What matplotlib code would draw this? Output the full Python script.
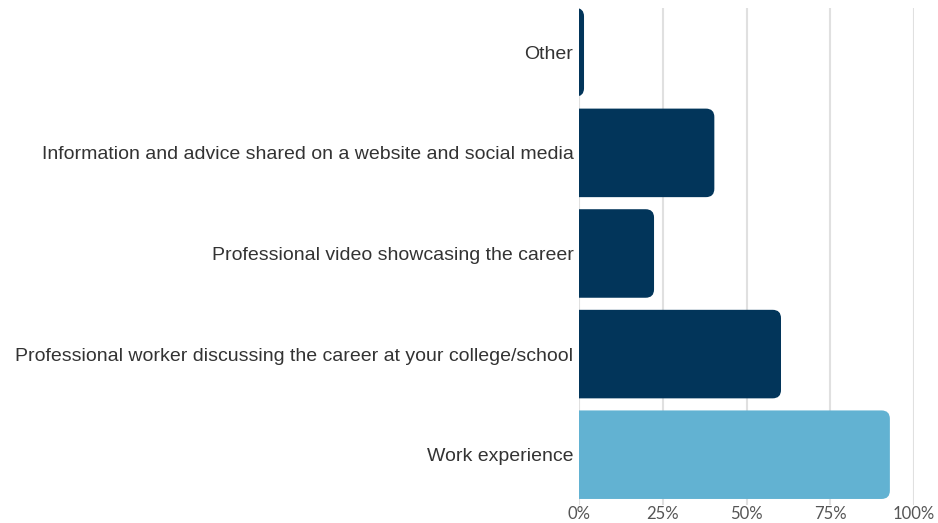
import matplotlib
matplotlib.use("Agg")
import matplotlib.pyplot as plt
from matplotlib.patches import FancyBboxPatch

categories = [
    "Other",
    "Information and advice shared on a website and social media",
    "Professional video showcasing the career",
    "Professional worker discussing the career at your college/school",
    "Work experience",
]
values = [1.5, 40.4, 22.4, 60.3, 92.8]
colors = ["#02355a", "#02355a", "#02355a", "#02355a", "#62b2d2"]
ticks = [0, 25, 50, 75, 100]
tick_labels = ["0%", "25%", "50%", "75%", "100%"]

fig = plt.figure(figsize=(9.38, 5.23), dpi=100)
ax = fig.add_axes([579 / 938, 1 - 505 / 523, (914 - 579) / 938, (505 - 8) / 523])

n = len(categories)
ax.set_xlim(0, 100)
ax.set_ylim(n - 0.5, -0.44)

bar_h = 0.88
rx = 2.5
for i, (v, c) in enumerate(zip(values, colors)):
    box = FancyBboxPatch((-rx, i - bar_h / 2), v + rx, bar_h,
                         boxstyle="round,pad=0,rounding_size=%g" % rx,
                         mutation_aspect=0.083 / rx,
                         facecolor=c, edgecolor="none", zorder=3)
    ax.add_patch(box)

for t in ticks:
    ax.axvline(t, color="#e0e0e0", lw=1.5, zorder=1)

ax.set_yticks(range(n))
ax.set_yticklabels(categories, fontfamily="Liberation Sans", fontsize=14, color="#333333")
ax.set_xticks(ticks)
ax.set_xticklabels(tick_labels, fontfamily="Lato", fontsize=12, color="#555555")
ax.tick_params(length=0, axis="y", pad=4)
ax.tick_params(length=0, axis="x", pad=1)
for s in ax.spines.values():
    s.set_visible(False)

fig.savefig("out.png", dpi=100)
